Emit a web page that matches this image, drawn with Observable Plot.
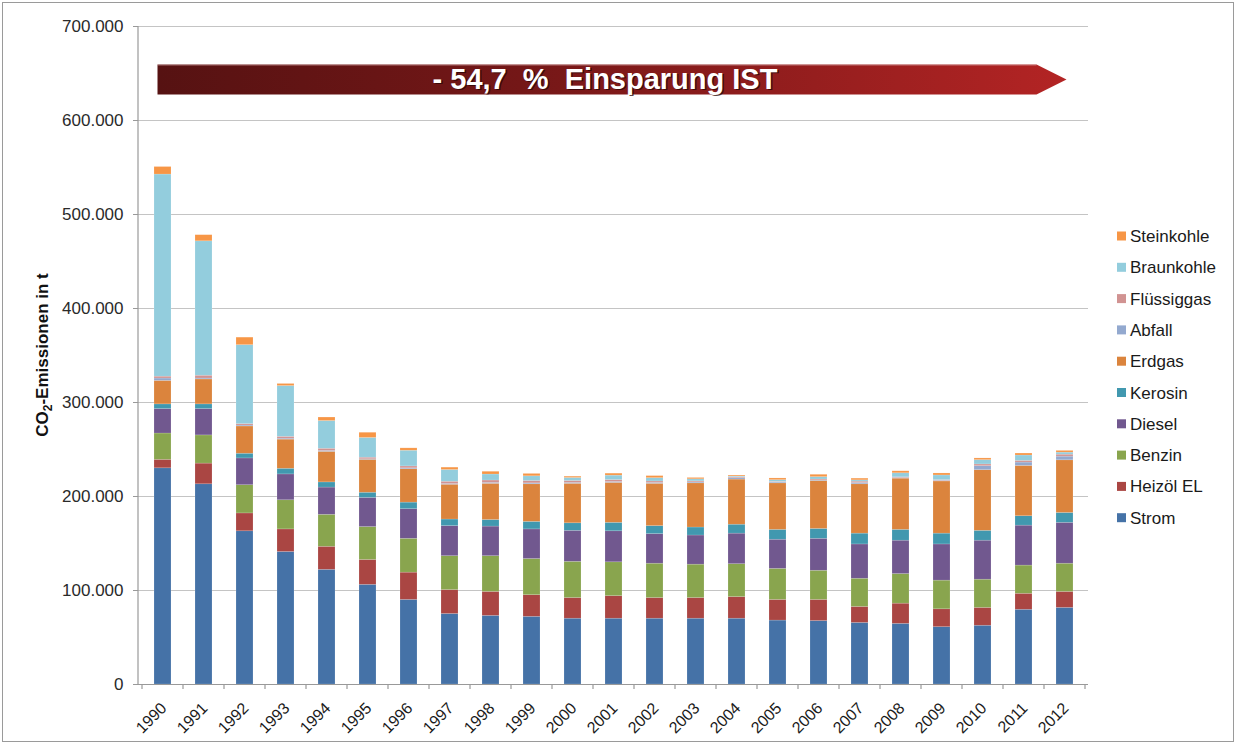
<!DOCTYPE html>
<html>
<head>
<meta charset="utf-8">
<script src="https://cdn.jsdelivr.net/npm/d3@7"></script>
<script src="https://cdn.jsdelivr.net/npm/@observablehq/plot@0.6"></script>
<style>
  html, body { margin: 0; padding: 0; background: #fff; }
  #chart { position: relative; width: 1237px; height: 745px; }
</style>
</head>
<body>
<div id="chart"></div>
<script>
// ---- data (t CO2) ----
const years = ["1990","1991","1992","1993","1994","1995","1996","1997","1998","1999","2000","2001","2002","2003","2004","2005","2006","2007","2008","2009","2010","2011","2012"];
const seriesNames = ["Strom","Heizöl EL","Benzin","Diesel","Kerosin","Erdgas","Abfall","Flüssiggas","Braunkohle","Steinkohle"];
const seriesColors = ["#4572A7","#AA4643","#89A54E","#71588F","#4198AF","#DB843D","#93A9CF","#D19392","#93CDDD","#F79646"];

const strom      = [230000,213000,163000,141000,122000,106000,90000,75000,73000,72000,70000,70000,70000,70000,70000,68000,67500,65500,64500,61000,62500,79500,81500];
const heizoel    = [9000,22000,19000,24000,24500,26500,29000,25500,25500,23000,22000,24000,22000,22000,23000,22000,22500,17000,21500,19000,19000,17000,17000];
const benzin     = [28000,30000,30000,31000,34000,35000,36000,36000,38000,38500,38500,36000,36500,35500,35000,33000,31000,30000,31500,30500,30000,30000,30000];
const diesel     = [26000,28000,28500,27500,29000,31000,31500,32000,31500,31500,33000,33000,31500,31000,32500,31000,34000,36500,35500,38500,41500,42500,43500];
const kerosin    = [5000,5000,5000,6000,5500,5500,7000,7000,7000,8000,8000,9000,8500,8500,9500,10500,10500,11500,11500,11500,10500,10000,10500];
const erdgas     = [25000,26500,29000,31000,32500,35000,35500,37000,38500,40000,42000,42500,45000,47000,48000,49500,51000,52500,54500,55500,64500,53500,56000];
const abfall     = [2500,1000,1000,1000,1000,600,1000,800,1000,1000,1000,1000,1000,1000,1500,1000,600,1400,700,700,4300,3600,3900];
const fluessig   = [2000,3000,1500,2000,2300,1700,2000,2400,2500,2500,2000,2000,1500,1100,1000,600,1000,1400,700,700,1800,1800,2100];
const braunkohle = [215000,143000,84000,54000,29500,21000,16700,12500,6400,5000,3200,4700,3500,2200,800,1800,2500,1400,4300,5000,4600,5700,2200];
const steinkohle = [8000,6500,8000,2200,3700,5500,2500,2500,2900,2500,1400,2100,2200,1400,1000,1800,2500,1800,2100,2100,1800,2100,1800];

const seriesValues = [strom, heizoel, benzin, diesel, kerosin, erdgas, abfall, fluessig, braunkohle, steinkohle];
const yTicks = [0,100000,200000,300000,400000,500000,600000,700000];
const bannerText = "- 54,7  %  Einsparung IST";
const bannerTop = 659000, bannerBottom = 627000;
const yLabelMain = "CO", yLabelSub = "2", yLabelRest = "-Emissionen in t";

// long table, stacked bottom-up in series order
const data = [];
years.forEach((yr, i) => {
  seriesNames.forEach((s, j) => data.push({year: yr, series: s, value: seriesValues[j][i]}));
});

const fmt = d => d === 0 ? "0" : d3.format(",")(d).replace(/,/g, ".");
const FONT = "'Liberation Sans', Arial, sans-serif";

const plot = Plot.plot({
  width: 1237,
  height: 745,
  marginLeft: 138,
  marginRight: 149,
  marginTop: 26,
  marginBottom: 61,
  style: {fontFamily: FONT, fontSize: "16px", color: "#1a1a1a", background: "#fff"},
  x: {domain: years, paddingInner: 0.59, paddingOuter: 0.295, label: null, axis: null},
  y: {domain: [0, 700000], label: null},
  color: {domain: seriesNames, range: seriesColors},
  marks: [
    Plot.gridY(yTicks, {stroke: "#c4c4c4", strokeOpacity: 1, strokeWidth: 1.2}),
    Plot.barY(data, {x: "year", y: "value", fill: "series", stroke: "#ffffff", strokeOpacity: 0.25, strokeWidth: 0.6}),
    Plot.axisY({ticks: yTicks, tickFormat: fmt, tickSize: 5, tickPadding: 10, fontSize: 17, fill: "#2a2a2a", stroke: "#999", label: null}),
    Plot.ruleY([0], {stroke: "#999", strokeWidth: 1.2}),
    Plot.text(years, {x: d => d, y: 0, text: d => d, rotate: -45, textAnchor: "end", lineAnchor: "middle", dx: 1, dy: 21, fontSize: 16, fill: "#1a1a1a"})
  ]
});

document.getElementById("chart").appendChild(plot);

const svg = d3.select(plot);
const xs = plot.scale("x"), ys = plot.scale("y");
const bw = xs.bandwidth, step = xs.step;

// y axis line
svg.append("line")
  .attr("x1", 138).attr("x2", 138)
  .attr("y1", ys.apply(700000)).attr("y2", ys.apply(0) + 0.5)
  .attr("stroke", "#999").attr("stroke-width", 1.2);

// x tick marks at band boundaries
const xStart = xs.apply(years[0]) - (step - bw) / 2;
for (let i = 0; i <= years.length; i++) {
  const px = xStart + i * step;
  svg.append("line").attr("x1", px).attr("x2", px)
    .attr("y1", ys.apply(0)).attr("y2", ys.apply(0) + 5)
    .attr("stroke", "#999").attr("stroke-width", 1.2);
}

// outer frame
svg.append("rect").attr("x", 2.5).attr("y", 2.5).attr("width", 1231).attr("height", 739)
  .attr("fill", "none").attr("stroke", "#9a9a9a").attr("stroke-width", 1);

// y axis title
const yt = svg.append("text")
  .attr("transform", `translate(48,${ys.apply(350000)}) rotate(-90)`)
  .attr("text-anchor", "middle")
  .attr("font-family", FONT).attr("font-size", 17).attr("font-weight", "bold").attr("fill", "#111");
yt.append("tspan").text(yLabelMain);
yt.append("tspan").attr("font-size", 12).attr("dy", 4).text(yLabelSub);
yt.append("tspan").attr("dy", -4).text(yLabelRest);

// banner arrow
const defs = svg.append("defs");
const grad = defs.append("linearGradient").attr("id", "bannerGrad").attr("x1", "0%").attr("x2", "100%");
grad.append("stop").attr("offset", "0%").attr("stop-color", "#561212");
grad.append("stop").attr("offset", "40%").attr("stop-color", "#741717");
grad.append("stop").attr("offset", "100%").attr("stop-color", "#b32424");
const cx0 = xs.apply(years[0]) + bw / 2, cx1 = xs.apply(years[years.length - 1]) + bw / 2;
const bx0 = cx0 - 5;
const bx1 = cx1 + 2;
const by0 = ys.apply(bannerTop), by1 = ys.apply(bannerBottom);
const bmid = (by0 + by1) / 2;
svg.append("path")
  .attr("d", `M${bx0},${by0} L${bx1 - 30},${by0} L${bx1},${bmid} L${bx1 - 30},${by1} L${bx0},${by1} Z`)
  .attr("fill", "url(#bannerGrad)");
svg.append("line").attr("x1", bx0).attr("x2", bx1 - 30).attr("y1", by0 + 0.5).attr("y2", by0 + 0.5)
  .attr("stroke", "#d8a8a8").attr("stroke-width", 1).attr("opacity", 0.6);
svg.append("text")
  .attr("x", 606.5).attr("y", bmid + 10.5)
  .attr("text-anchor", "middle").attr("xml:space", "preserve").style("white-space", "pre")
  .attr("font-family", FONT).attr("font-size", 29).attr("font-weight", "bold").attr("fill", "#2a0606").attr("opacity", 0.75)
  .text(bannerText);
svg.append("text")
  .attr("x", 605).attr("y", bmid + 9)
  .attr("text-anchor", "middle").attr("xml:space", "preserve").style("white-space", "pre")
  .attr("font-family", FONT).attr("font-size", 29).attr("font-weight", "bold").attr("fill", "#fff")
  .text(bannerText);

// legend (top = Steinkohle)
const lg = svg.append("g").attr("font-family", FONT).attr("font-size", 17).attr("fill", "#1a1a1a").attr("text-anchor", "start");
const legendOrder = seriesNames.slice().reverse();
legendOrder.forEach((s, i) => {
  const cy = 236 + i * 31.3;
  lg.append("rect").attr("x", 1117).attr("y", cy - 4.5).attr("width", 9).attr("height", 9)
    .attr("fill", seriesColors[seriesNames.indexOf(s)]);
  lg.append("text").attr("x", 1130).attr("y", cy + 6).attr("text-anchor", "start").text(s);
});
</script>
</body>
</html>
